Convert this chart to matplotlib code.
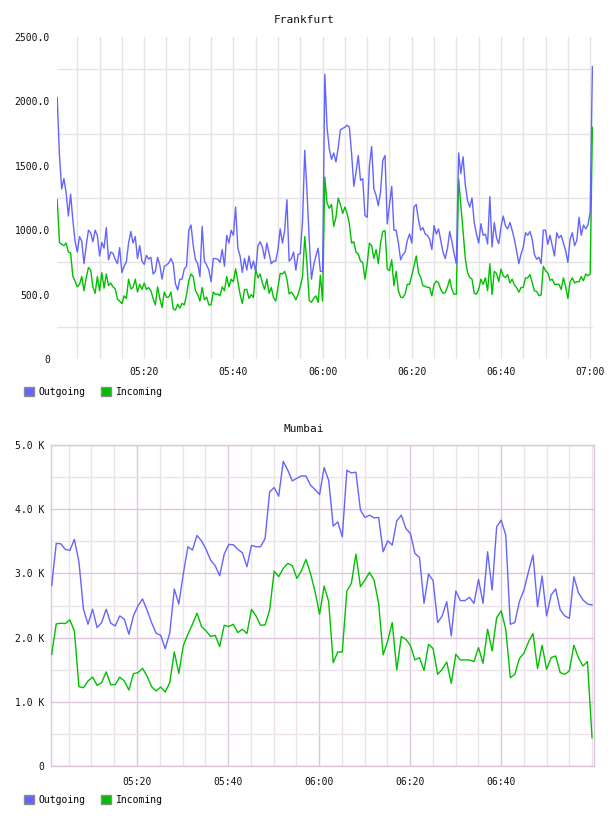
import numpy as np
import pandas as pd
import matplotlib
matplotlib.use("Agg")
import matplotlib.pyplot as plt
import matplotlib.dates as mdates
from matplotlib.patches import Patch

plt.rcParams['font.family'] = ['DejaVu Sans Mono', 'DejaVu Sans']

DAY = "2015-01-01 "

# Frankfurt: 30 s samples, 05:00:30 .. 07:00:30
fra_out = [
    2030, 1580, 1320, 1400, 1290, 1110, 1280, 1080, 915, 830,
    950, 915, 740, 880, 1000, 980, 910, 1000, 960, 800,
    905, 860, 1020, 770, 830, 820, 775, 740, 865, 670,
    720, 755, 900, 990, 900, 950, 780, 880, 760, 735,
    805, 775, 790, 660, 680, 790, 730, 620, 720, 730,
    745, 780, 740, 585, 535, 620, 620, 700, 720, 1000,
    1040, 880, 770, 740, 640, 1030, 760, 730, 690, 600,
    780, 780, 775, 750, 850, 720, 960, 900, 1000, 960,
    1180, 860, 800, 672, 780, 690, 800, 700, 760, 680,
    880, 910, 870, 780, 900, 820, 740, 760, 760, 850,
    1010, 900, 1000, 1236, 760, 780, 830, 690, 810, 820,
    1070, 1620, 1300, 930, 620, 730, 800, 860, 680, 680,
    2210, 1800, 1630, 1550, 1600, 1530, 1640, 1780, 1790, 1800,
    1815, 1800, 1600, 1340, 1450, 1580, 1387, 1400, 1114, 1100,
    1500, 1650, 1320, 1270, 1190, 1300, 1543, 1580, 1049, 1200,
    1340, 1000, 1000, 900, 770, 810, 830, 920, 971, 900,
    1180, 1200, 1080, 1000, 1020, 971, 960, 930, 850, 1036,
    970, 1010, 920, 830, 780, 860, 990, 910, 815, 737,
    1600, 1440, 1570, 1350, 1230, 1180, 1250, 1060, 970, 900,
    1050, 960, 970, 893, 1260, 870, 1060, 940, 895, 1023,
    1110, 1034, 1010, 1060, 1000, 930, 840, 740, 815, 870,
    980, 960, 990, 930, 810, 775, 790, 740, 1000, 1000,
    890, 960, 880, 800, 980, 940, 960, 900, 840, 750,
    930, 980, 880, 920, 1100, 960, 1040, 1010, 1040, 1140,
    2270,
]
fra_in = [
    1236, 906, 890, 880, 900, 830, 825, 640, 605, 560,
    580, 640, 530, 630, 710, 690, 560, 510, 640, 530,
    670, 550, 660, 570, 590, 560, 545, 465, 450, 430,
    490, 470, 620, 545, 555, 620, 520, 580, 540, 590,
    540, 555, 530, 470, 420, 560, 470, 400, 520, 480,
    480, 520, 390, 380, 425, 395, 432, 420, 500, 610,
    660, 640, 529, 500, 450, 555, 460, 480, 420, 420,
    520, 500, 505, 490, 560, 530, 640, 560, 620, 600,
    700, 600, 503, 430, 540, 540, 470, 500, 477, 700,
    630, 660, 590, 540, 620, 510, 555, 475, 450, 560,
    665, 660, 680, 620, 505, 520, 495, 460, 500, 560,
    640, 950, 740, 455, 440, 470, 490, 440, 650, 450,
    1412, 1210, 1170, 1200, 1030, 1100, 1250, 1200, 1130, 1179,
    1130, 1049, 900, 910, 828, 815, 760, 750, 620, 740,
    900, 880, 780, 850, 740, 900, 990, 997, 700, 685,
    770, 570, 680, 530, 480, 477, 505, 580, 580, 650,
    720, 800, 670, 633, 568, 565, 556, 555, 490, 581,
    605, 590, 540, 510, 515, 560, 620, 540, 503, 503,
    1400, 1200, 990, 780, 670, 633, 620, 510, 503, 540,
    620, 580, 630, 530, 740, 500, 680, 665, 600, 698,
    645, 633, 655, 590, 620, 575, 555, 518, 555, 555,
    630, 630, 655, 594, 529, 525, 492, 497, 720, 685,
    670, 610, 620, 580, 580, 580, 540, 630, 560, 470,
    600, 630, 590, 600, 600, 640, 607, 660, 646, 660,
    1800,
]
fra_yticks = [0, 500, 1000, 1500, 2000, 2500]
fra_ylabels = ["0", "500.0", "1000.0", "1500.0", "2000.0", "2500.0"]
fra_xticks = ["05:20", "05:40", "06:00", "06:20", "06:40", "07:00"]

# Mumbai: 1 min samples, 05:01:15 .. 07:00
mum_out = [
    2809, 3467, 3462, 3374, 3358, 3529, 3182, 2442, 2208, 2442,
    2156, 2234, 2442, 2224, 2182, 2338, 2286, 2052, 2338, 2494,
    2602, 2430, 2234, 2068, 2036, 1828, 2068, 2757, 2524, 3000,
    3415, 3363, 3591, 3508, 3374, 3208, 3120, 2964, 3301, 3451,
    3446, 3374, 3322, 3104, 3436, 3415, 3415, 3544, 4270, 4337,
    4202, 4746, 4606, 4441, 4482, 4518, 4518, 4373, 4306, 4228,
    4648, 4451, 3736, 3803, 3570, 4606, 4565, 4575, 3985, 3871,
    3907, 3866, 3871, 3337, 3508, 3441, 3819, 3907, 3700, 3622,
    3311, 3249, 2534, 2990, 2886, 2234, 2338, 2560, 2026, 2726,
    2576, 2576, 2628, 2534, 2907, 2534, 3337, 2741, 3726, 3829,
    3596, 2208, 2234, 2560, 2741, 3026, 3285, 2482, 2959, 2338,
    2664, 2757, 2430, 2338, 2300, 2948, 2700, 2586, 2524, 2508,
]
mum_in = [
    1740, 2213, 2224, 2218, 2276, 2104, 1236, 1220, 1324, 1386,
    1256, 1298, 1464, 1267, 1267, 1386, 1324, 1184, 1438, 1454,
    1522, 1402, 1236, 1168, 1230, 1152, 1298, 1776, 1444, 1880,
    2052, 2208, 2380, 2172, 2104, 2016, 2036, 1860, 2192, 2172,
    2208, 2078, 2130, 2062, 2440, 2338, 2192, 2198, 2430, 3037,
    2949, 3078, 3156, 3120, 2923, 3042, 3218, 3000, 2716, 2364,
    2804, 2560, 1610, 1776, 1776, 2726, 2845, 3301, 2793, 2897,
    3016, 2897, 2534, 1730, 1948, 2234, 1496, 2016, 1974, 1880,
    1652, 1688, 1490, 1896, 1828, 1428, 1506, 1620, 1288, 1740,
    1652, 1652, 1652, 1626, 1844, 1600, 2130, 1792, 2312, 2416,
    2130, 1376, 1428, 1672, 1756, 1932, 2062, 1516, 1880, 1506,
    1688, 1714, 1454, 1428, 1480, 1880, 1688, 1558, 1626, 440,
]
mum_yticks = [0, 1000, 2000, 3000, 4000, 5000]
mum_ylabels = ["0", "1.0 K", "2.0 K", "3.0 K", "4.0 K", "5.0 K"]
mum_xticks = ["05:20", "05:40", "06:00", "06:20", "06:40"]

OUT_C = "#6464ff"
IN_C = "#00c000"
W, H = 608, 816


def to_time(s):
    return pd.to_datetime(DAY + s)


def panel(rect, title, title_y, legend_y, times_out, out, times_in, inc,
          xlim, ylim, yticks, ylabels, xticks, minor_y, style):
    ax = fig.add_axes([rect[0] / W, 1 - rect[3] / H, (rect[2] - rect[0]) / W,
                       (rect[3] - rect[1]) / H])
    ax.plot(times_in, inc, color=IN_C, lw=1.0, zorder=3)
    ax.plot(times_out, out, color=OUT_C, lw=1.0, zorder=3)
    ax.set_xlim(to_time(xlim[0]), to_time(xlim[1]))
    ax.set_ylim(*ylim)
    ax.set_yticks(yticks)
    ax.set_yticklabels(ylabels)
    ax.set_yticks(minor_y, minor=True)
    ax.set_xticks([to_time(t) for t in xticks])
    ax.xaxis.set_major_formatter(mdates.DateFormatter("%H:%M"))
    ax.xaxis.set_minor_locator(mdates.MinuteLocator(byminute=range(0, 60, 5)))
    ax.tick_params(which="both", length=0, labelsize=7, colors="#111111")
    ax.tick_params(axis="y", pad=5)
    ax.tick_params(axis="x", pad=style["xpad"])
    ax.set_axisbelow(True)
    if style["frame"]:
        for sp in ax.spines.values():
            sp.set_color(style["major"])
            sp.set_linewidth(1.0)
        ax.grid(True, which="major", color=style["major"], lw=1.0)
        ax.grid(True, which="minor", color=style["minor"], lw=1.0)
    else:
        for sp in ax.spines.values():
            sp.set_visible(False)
        ax.grid(True, which="major", axis="x", color=style["minor"], lw=1.0)
        ax.grid(True, which="minor", color=style["minor"], lw=1.0)
    fig.text(0.5, 1 - title_y / H, title, ha="center", va="center",
             fontsize=8, color="#111111")
    handles = [Patch(facecolor=OUT_C, edgecolor="#8c8c8c", lw=1.0, label="Outgoing"),
               Patch(facecolor=IN_C, edgecolor="#8c8c8c", lw=1.0, label="Incoming")]
    fig.legend(handles=handles, loc="center left",
               bbox_to_anchor=(24 / W, 1 - legend_y / H), ncol=2, frameon=False,
               fontsize=7, handlelength=1.0, handleheight=1.0, handletextpad=0.5,
               columnspacing=1.6, borderpad=0, borderaxespad=0)
    return ax


fig = plt.figure(figsize=(W / 100, H / 100), dpi=100)

fra_t = pd.date_range(to_time("05:00:30"), to_time("07:00:30"), periods=len(fra_out))
fra_ti = pd.date_range(to_time("05:00:30"), to_time("07:00:30"), periods=len(fra_in))
panel((57, 37, 593, 359), "Frankfurt", 20, 392, fra_t, fra_out, fra_ti, fra_in,
      ("05:00:27", "07:00:38"), (0, 2500), fra_yticks, fra_ylabels, fra_xticks,
      [250, 750, 1250, 1750, 2250],
      {"frame": False, "minor": "#e4e4e4", "major": "#e4e4e4", "xpad": 6})

mum_t = pd.date_range(to_time("05:01:15"), to_time("07:00:00"), periods=len(mum_out))
mum_ti = pd.date_range(to_time("05:01:15"), to_time("07:00:00"), periods=len(mum_in))
panel((51, 445, 594, 766), "Mumbai", 429, 800, mum_t, mum_out, mum_ti, mum_in,
      ("05:01:06", "07:00:26"), (0, 5000), mum_yticks, mum_ylabels, mum_xticks,
      [500, 1500, 2500, 3500, 4500],
      {"frame": True, "minor": "#ece2ec", "major": "#dcc6dc", "xpad": 8})

fig.savefig("out.png", dpi=100)
